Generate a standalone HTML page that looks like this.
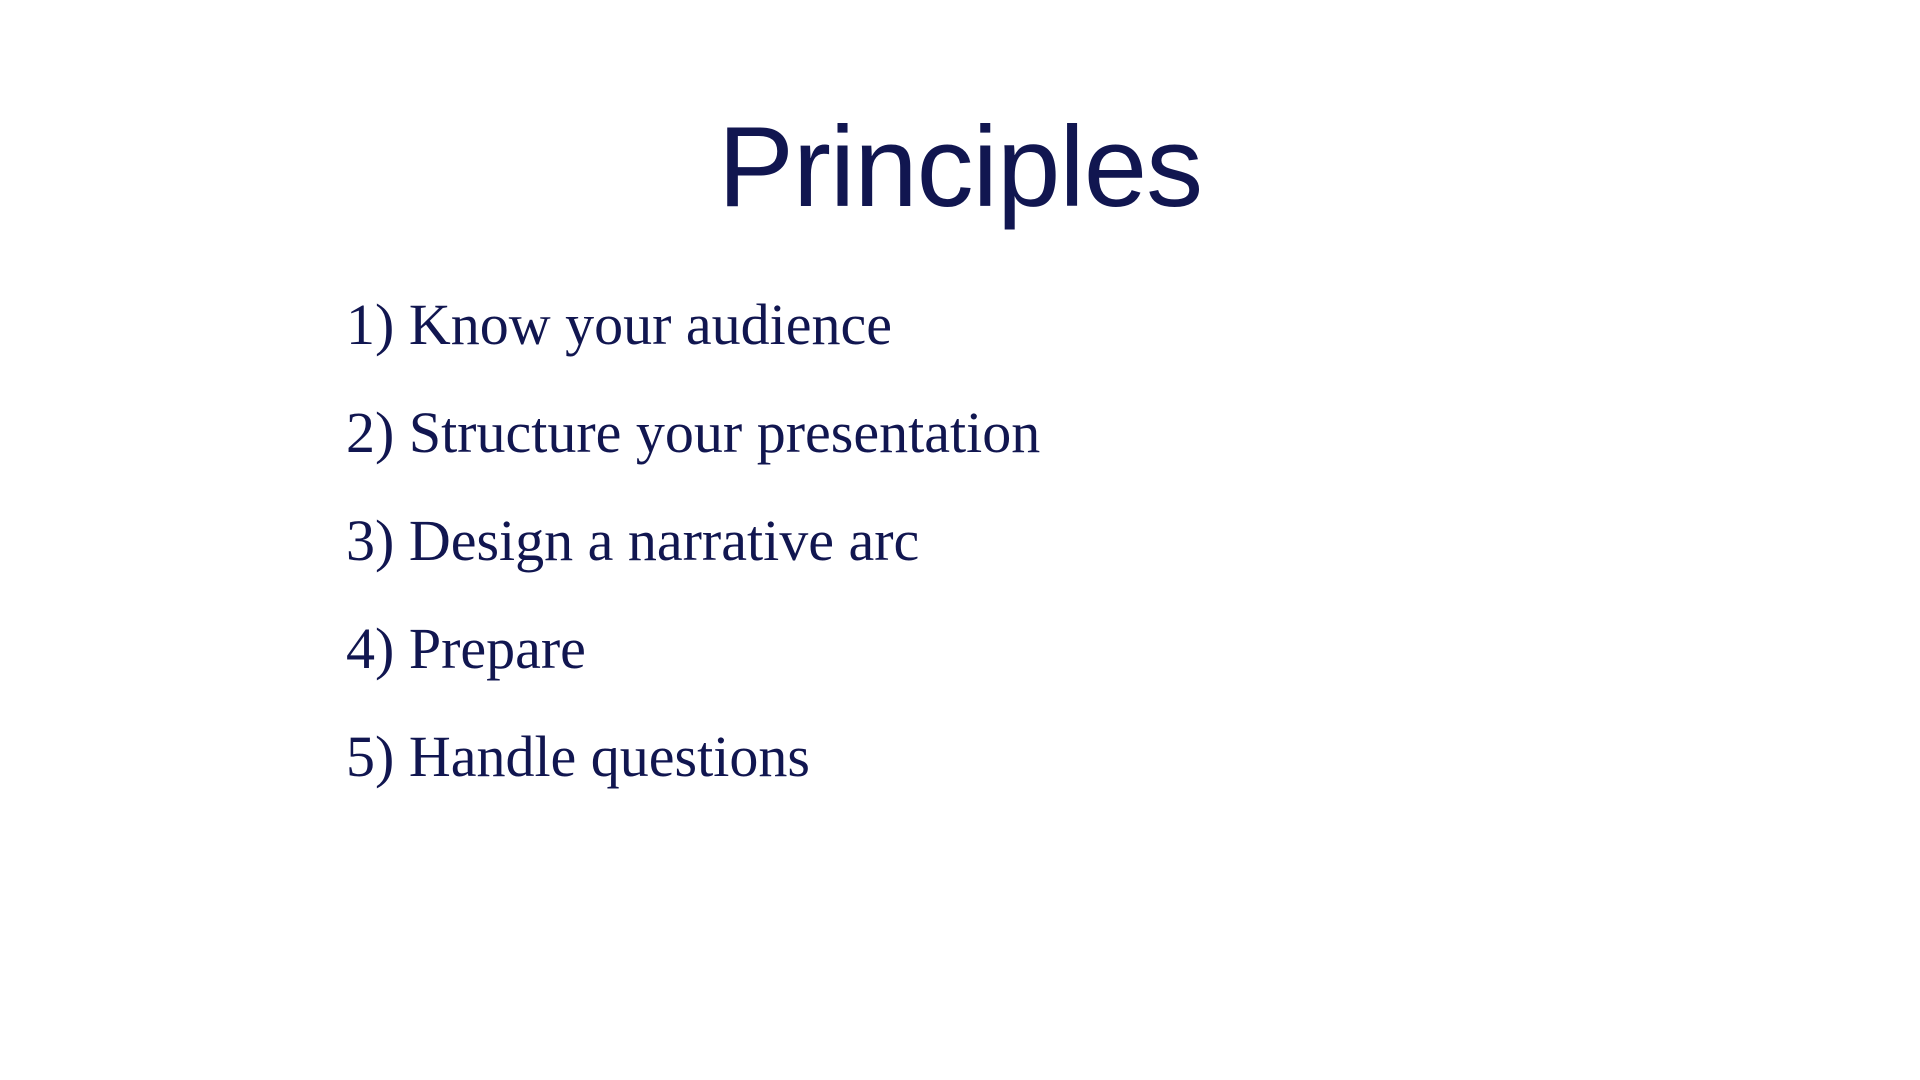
<!DOCTYPE html>
<html>
<head>
<meta charset="utf-8">
<style>
  html, body { margin:0; padding:0; background:#ffffff; }
  body { width:1920px; height:1080px; position:relative; overflow:hidden; }
  #title {
    position:absolute; left:0; width:1920px; text-align:center;
    top:111px; font-family:"Liberation Sans", sans-serif; font-size:114px;
    color:#111650; line-height:1; letter-spacing:-1px;
  }
  .item {
    position:absolute; left:346px; font-family:"Liberation Serif", serif;
    font-size:58px; color:#111650; line-height:1; white-space:nowrap;
  }
</style>
</head>
<body>
  <div id="title">Principles</div>
  <div class="item" style="top:296px">1) Know your audience</div>
  <div class="item" style="top:404px">2) Structure your presentation</div>
  <div class="item" style="top:512px">3) Design a narrative arc</div>
  <div class="item" style="top:620px">4) Prepare</div>
  <div class="item" style="top:728px">5) Handle questions</div>
</body>
</html>
